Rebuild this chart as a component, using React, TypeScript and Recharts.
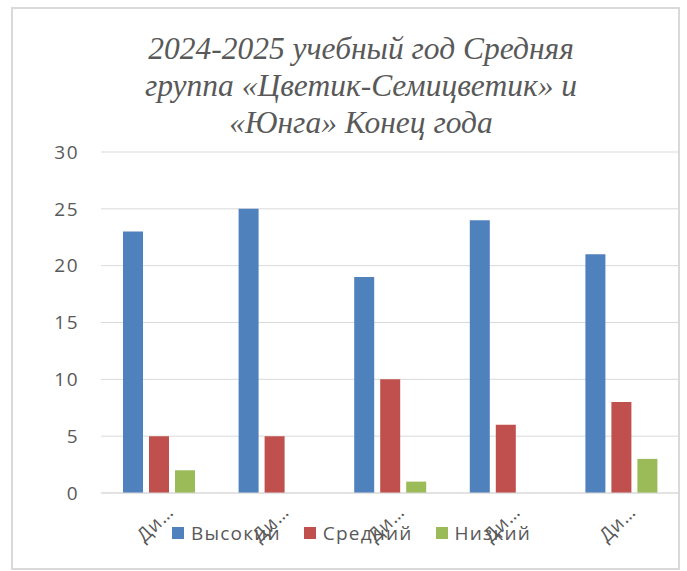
import { BarChart, Bar, XAxis, YAxis, CartesianGrid, Legend } from 'recharts';

const categories = ['Ди…', 'Ди…', 'Ди…', 'Ди…', 'Ди…'];
const high = [23, 25, 19, 24, 21];
const medium = [5, 5, 10, 6, 8];
const low = [2, 0, 1, 0, 3];
const yTicks = [0, 5, 10, 15, 20, 25, 30];

const titleLines = [
  '2024-2025 учебный год Средняя',
  'группа «Цветик-Семицветик» и',
  '«Юнга» Конец года',
];

const series = [
  { key: 'high', name: 'Высокий', color: '#4f81bd' },
  { key: 'medium', name: 'Средний', color: '#c0504d' },
  { key: 'low', name: 'Низкий', color: '#9bbb59' },
];

const data = categories.map((name, i) => ({
  name,
  high: high[i],
  medium: medium[i],
  low: low[i],
}));

const FONT = '"Open Sans", "Liberation Sans", sans-serif';
const TEXT = '#595959';

function CategoryTick({ x, y, payload }: { x?: number; y?: number; payload?: { value: string } }) {
  return (
    <g transform={`translate(${(x ?? 0) + 16},${(y ?? 0) + 20})`}>
      <text textAnchor="end" transform="rotate(-45)" fontSize={19} letterSpacing={1} fontFamily={FONT} fill={TEXT}>
        {payload?.value}
      </text>
    </g>
  );
}

function LegendBox() {
  return (
    <div
      style={{
        display: 'flex',
        alignItems: 'center',
        fontFamily: FONT,
        fontSize: 19,
        letterSpacing: 1.2,
        color: TEXT,
        lineHeight: '22px',
        whiteSpace: 'nowrap',
      }}
    >
      {series.map((s) => (
        <div key={s.key} style={{ display: 'flex', alignItems: 'center', marginRight: 23 }}>
          <span style={{ width: 12, height: 12, background: s.color, display: 'inline-block', marginRight: 7 }} />
          <span>{s.name}</span>
        </div>
      ))}
    </div>
  );
}

export default function App() {
  return (
    <div
      style={{
        position: 'absolute',
        left: 11,
        top: 7,
        width: 669,
        height: 563,
        boxSizing: 'border-box',
        border: '2px solid #d9d9d9',
        background: '#fff',
      }}
    >
      <div
        style={{
          position: 'absolute',
          left: 0,
          top: 21,
          width: 665,
          paddingLeft: 31,
          boxSizing: 'border-box',
          textAlign: 'center',
          fontFamily: '"Liberation Serif", "Times New Roman", serif',
          fontStyle: 'italic',
          fontSize: 31.5,
          lineHeight: '37px',
          color: TEXT,
          whiteSpace: 'nowrap',
        }}
      >
        {titleLines.map((line, i) => (
          <div key={i}>{line}</div>
        ))}
      </div>
      <div style={{ position: 'absolute', left: 0, top: 0 }}>
        <BarChart
          width={666}
          height={559}
          data={data}
          margin={{ top: 143, right: 0, left: 0, bottom: 0 }}
          barSize={20}
          barGap={6}
        >
          <CartesianGrid vertical={false} stroke="#d9d9d9" />
          <XAxis
            dataKey="name"
            height={75}
            interval={0}
            axisLine={{ stroke: '#d9d9d9' }}
            tickLine={false}
            tickSize={0}
            tickMargin={0}
            tick={<CategoryTick />}
          />
          <YAxis
            width={88}
            domain={[0, 30]}
            ticks={yTicks}
            axisLine={false}
            tickLine={false}
            tickSize={0}
            tickMargin={22}
            tick={{ fontSize: 19, fontFamily: FONT, fill: TEXT, letterSpacing: 1.5 }}
          />
          <Legend
            verticalAlign="middle"
            layout="horizontal"
            content={<LegendBox />}
            wrapperStyle={{ position: 'absolute', left: 159, top: 513, width: 'auto' }}
          />
          {series.map((s) => (
            <Bar key={s.key} dataKey={s.key} name={s.name} fill={s.color} isAnimationActive={false} />
          ))}
        </BarChart>
      </div>
    </div>
  );
}
